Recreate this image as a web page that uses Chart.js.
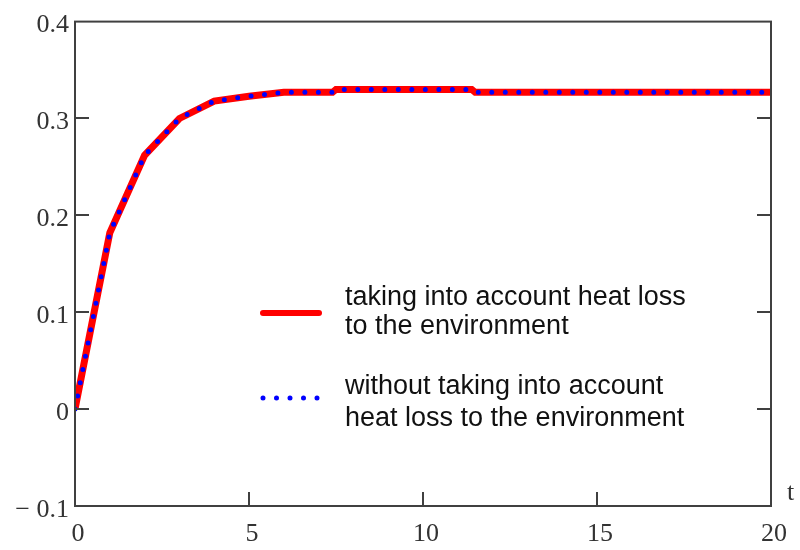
<!DOCTYPE html>
<html>
<head>
<meta charset="utf-8">
<script src="https://cdn.jsdelivr.net/npm/chart.js@4"></script>
<style>
  body { margin: 0; background: #fff; }
</style>
</head>
<body>
<canvas id="myChart" width="800" height="550"></canvas>
<script>
// time values (t) and the two curves
var tValues = [0, 1, 2, 3, 4, 5, 6, 7, 7.4, 7.5, 11.4, 11.5, 20];
var withLoss = [0, 0.182, 0.262, 0.3, 0.318, 0.323, 0.327, 0.327, 0.327, 0.33, 0.33, 0.327, 0.327];
var withoutLoss = [0, 0.182, 0.262, 0.3, 0.318, 0.323, 0.327, 0.327, 0.327, 0.33, 0.33, 0.327, 0.327];

var yTicks = [-0.1, 0, 0.1, 0.2, 0.3, 0.4];
var xTicks = [0, 5, 10, 15, 20];

var legendLabels = [
  ["taking into account heat loss", "to the environment"],
  ["without taking into account", "heat loss to the environment"],
];

var serif = "'Liberation Serif', 'Times New Roman', serif";

function toPoints(xs, ys) {
  return xs.map(function (x, i) {
    return { x: x, y: ys[i] };
  });
}

// frame, inside tick marks, legend and the "t" label
var framePlugin = {
  id: "frame",
  afterDraw: function (chart) {
    var ctx = chart.ctx;
    var area = chart.chartArea;
    var xs = chart.scales.x;
    var ys = chart.scales.y;
    ctx.save();
    ctx.strokeStyle = "#404040";
    ctx.lineWidth = 2;
    ctx.strokeRect(area.left, area.top, area.right - area.left, area.bottom - area.top);

    ctx.beginPath();
    yTicks.slice(1, -1).forEach(function (v) {
      var py = Math.round(ys.getPixelForValue(v));
      ctx.moveTo(area.left, py);
      ctx.lineTo(area.left + 14, py);
      ctx.moveTo(area.right, py);
      ctx.lineTo(area.right - 14, py);
    });
    xTicks.slice(1, -1).forEach(function (v) {
      var px = Math.round(xs.getPixelForValue(v));
      ctx.moveTo(px, area.bottom);
      ctx.lineTo(px, area.bottom - 14);
    });
    ctx.stroke();

    // legend
    ctx.lineCap = "round";
    ctx.strokeStyle = "#ff0000";
    ctx.lineWidth = 6;
    ctx.beginPath();
    ctx.moveTo(263, 313);
    ctx.lineTo(319, 313);
    ctx.stroke();

    ctx.strokeStyle = "#0000ff";
    ctx.lineWidth = 5;
    ctx.setLineDash([0, 13.5]);
    ctx.beginPath();
    ctx.moveTo(263, 398);
    ctx.lineTo(322, 398);
    ctx.stroke();
    ctx.setLineDash([]);

    ctx.fillStyle = "#111";
    ctx.font = "27px 'Liberation Sans', Arial, sans-serif";
    ctx.textBaseline = "alphabetic";
    ctx.textAlign = "left";
    ctx.fillText(legendLabels[0][0], 345, 305);
    ctx.fillText(legendLabels[0][1], 345, 334);
    ctx.fillText(legendLabels[1][0], 345, 394);
    ctx.fillText(legendLabels[1][1], 345, 426);

    ctx.fillStyle = "#333";
    ctx.font = "26px " + serif;
    ctx.fillText("t", 787, 500);
    ctx.restore();
  },
};

var ctx = document.getElementById("myChart").getContext("2d");

var myChart = new Chart(ctx, {
  type: "line",
  data: {
    datasets: [
      {
        label: "taking into account heat loss to the environment",
        data: toPoints(tValues, withLoss),
        borderColor: "#ff0000",
        borderWidth: 7,
        pointRadius: 0,
        tension: 0,
        order: 2,
      },
      {
        label: "without taking into account heat loss to the environment",
        data: toPoints(tValues, withoutLoss),
        borderColor: "#0000ff",
        borderWidth: 5,
        borderDash: [0, 13.5],
        borderCapStyle: "round",
        pointRadius: 0,
        tension: 0,
        order: 1,
      },
    ],
  },
  plugins: [framePlugin],
  options: {
    responsive: false,
    animation: false,
    layout: { padding: { top: 20, right: 29, left: 0, bottom: 0 } },
    plugins: {
      legend: { display: false },
      tooltip: { enabled: false },
    },
    scales: {
      x: {
        type: "linear",
        min: 0,
        max: 20,
        afterFit: function (scale) {
          scale.height = 44;
        },
        afterBuildTicks: function (scale) {
          scale.ticks = xTicks.map(function (v) {
            return { value: v };
          });
        },
        grid: { display: false, drawTicks: false },
        border: { display: false },
        ticks: {
          padding: 13,
          labelOffset: 3,
          color: "#333",
          font: { family: serif, size: 26 },
        },
      },
      y: {
        min: -0.1,
        max: 0.4,
        afterFit: function (scale) {
          scale.width = 75;
        },
        afterBuildTicks: function (scale) {
          scale.ticks = yTicks.map(function (v) {
            return { value: v };
          });
        },
        grid: { display: false, drawTicks: false },
        border: { display: false },
        ticks: {
          padding: 6,
          labelOffset: 4,
          color: "#333",
          font: { family: serif, size: 26 },
          callback: function (value) {
            var v = Math.round(value * 10) / 10;
            if (v === 0) return "0";
            if (v < 0) return "\u2212 " + Math.abs(v).toFixed(1);
            return v.toFixed(1);
          },
        },
      },
    },
  },
});
</script>
</body>
</html>
